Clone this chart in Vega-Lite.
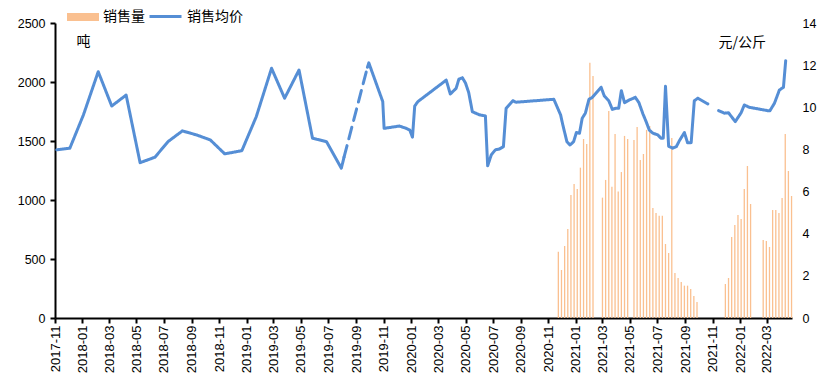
{
  "$schema": "https://vega.github.io/schema/vega-lite/v6.json",
  "autosize": {"type": "none"},
  "padding": {"left": 55, "top": 23, "right": 39, "bottom": 73},
  "width": 737,
  "height": 295,
  "background": "white",
  "config": {
    "view": {"stroke": null},
    "font": "Liberation Sans",
    "axis": {"labelColor": "black", "labelFontSize": 12.5, "labelFont": "Liberation Sans", "grid": false, "domainColor": "black", "tickColor": "black"},
    "legend": {"labelFont": "Noto Sans CJK SC", "labelFontSize": 14, "labelColor": "black", "padding": 0, "labelOffset": 4}
  },
  "layer": [
    {
      "data": {"values": [
        {"date": "2020-11-23", "sales": 562}, {"date": "2020-11-30", "sales": 407}, {"date": "2020-12-07", "sales": 610}, {"date": "2020-12-14", "sales": 754},
        {"date": "2020-12-21", "sales": 1042}, {"date": "2020-12-28", "sales": 1136}, {"date": "2021-01-04", "sales": 1093}, {"date": "2021-01-11", "sales": 1274},
        {"date": "2021-01-18", "sales": 1517}, {"date": "2021-01-25", "sales": 1475}, {"date": "2021-02-01", "sales": 2164}, {"date": "2021-02-08", "sales": 2051},
        {"date": "2021-03-01", "sales": 1020}, {"date": "2021-03-08", "sales": 1170}, {"date": "2021-03-15", "sales": 1754}, {"date": "2021-03-22", "sales": 1113},
        {"date": "2021-03-29", "sales": 1560}, {"date": "2021-04-05", "sales": 1071}, {"date": "2021-04-12", "sales": 1237}, {"date": "2021-04-19", "sales": 1543},
        {"date": "2021-04-26", "sales": 1517}, {"date": "2021-05-10", "sales": 1508}, {"date": "2021-05-17", "sales": 1619}, {"date": "2021-05-24", "sales": 1339},
        {"date": "2021-05-31", "sales": 1390}, {"date": "2021-06-07", "sales": 1594}, {"date": "2021-06-14", "sales": 1627}, {"date": "2021-06-21", "sales": 932},
        {"date": "2021-06-28", "sales": 890}, {"date": "2021-07-05", "sales": 867}, {"date": "2021-07-12", "sales": 867}, {"date": "2021-07-19", "sales": 627},
        {"date": "2021-07-26", "sales": 551}, {"date": "2021-08-02", "sales": 1525}, {"date": "2021-08-09", "sales": 381}, {"date": "2021-08-16", "sales": 339},
        {"date": "2021-08-23", "sales": 305}, {"date": "2021-08-30", "sales": 274}, {"date": "2021-09-06", "sales": 274}, {"date": "2021-09-13", "sales": 246},
        {"date": "2021-09-20", "sales": 186}, {"date": "2021-09-27", "sales": 136},
        {"date": "2021-11-29", "sales": 288}, {"date": "2021-12-06", "sales": 339}, {"date": "2021-12-13", "sales": 686}, {"date": "2021-12-20", "sales": 788},
        {"date": "2021-12-27", "sales": 873}, {"date": "2022-01-03", "sales": 839}, {"date": "2022-01-10", "sales": 1093}, {"date": "2022-01-17", "sales": 1288},
        {"date": "2022-01-24", "sales": 966},
        {"date": "2022-02-21", "sales": 661}, {"date": "2022-02-28", "sales": 653}, {"date": "2022-03-07", "sales": 602}, {"date": "2022-03-14", "sales": 915},
        {"date": "2022-03-21", "sales": 915}, {"date": "2022-03-28", "sales": 890}, {"date": "2022-04-04", "sales": 1017}, {"date": "2022-04-11", "sales": 1559},
        {"date": "2022-04-18", "sales": 1246}, {"date": "2022-04-25", "sales": 1034}
      ]},
      "mark": {"type": "bar", "size": 1.3},
      "encoding": {
        "x": {"field": "date", "type": "temporal",
          "scale": {"type": "utc", "nice": false, "padding": 0, "domain": [{"year": 2017, "month": 11, "date": 1, "utc": true}, {"year": 2022, "month": 4, "date": 26, "utc": true}]},
          "axis": {"title": null, "format": "%Y-%m", "tickCount": {"interval": "month", "step": 2}, "labelAngle": -90, "labelPadding": 2, "tickSize": 5, "tickWidth": 2, "domainWidth": 2, "labelFontSize": 13, "labelOverlap": false}},
        "y": {"field": "sales", "type": "quantitative",
          "scale": {"domain": [0, 2500], "nice": false},
          "axis": {"orient": "left", "values": [0, 500, 1000, 1500, 2000, 2500], "format": "d", "tickSize": 5, "tickWidth": 2, "domainWidth": 2, "labelPadding": 5,
            "title": "吨", "titleAngle": 0, "titleAlign": "left", "titleBaseline": "middle", "titleX": 21, "titleY": 18,
            "titleFont": "Noto Sans CJK SC", "titleFontSize": 14, "titleFontWeight": "normal", "titleColor": "black"}},
        "color": {"datum": "销售量", "type": "nominal",
          "scale": {"domain": ["销售量"], "range": ["#FAC090"]},
          "legend": {"orient": "none", "legendX": 12, "legendY": -22, "title": null,
            "symbolType": "M-1,-0.25H1V0.25H-1Z", "symbolSize": 1024, "symbolStrokeWidth": 0, "symbolOpacity": 1}}
      }
    },
    {
      "data": {"values": [
        {"date": "2017-11-05", "price": 7.98, "seg": "a"}, {"date": "2017-12-04", "price": 8.06, "seg": "a"}, {"date": "2018-01-03", "price": 9.63, "seg": "a"},
        {"date": "2018-02-05", "price": 11.69, "seg": "a"}, {"date": "2018-03-07", "price": 10.06, "seg": "a"}, {"date": "2018-04-08", "price": 10.58, "seg": "a"},
        {"date": "2018-05-09", "price": 7.37, "seg": "a"}, {"date": "2018-06-11", "price": 7.63, "seg": "a"}, {"date": "2018-07-10", "price": 8.37, "seg": "a"},
        {"date": "2018-08-11", "price": 8.88, "seg": "a"}, {"date": "2018-09-11", "price": 8.69, "seg": "a"}, {"date": "2018-10-12", "price": 8.45, "seg": "a"},
        {"date": "2018-11-13", "price": 7.79, "seg": "a"}, {"date": "2018-12-21", "price": 7.94, "seg": "a"}, {"date": "2019-01-22", "price": 9.55, "seg": "a"},
        {"date": "2019-02-25", "price": 11.85, "seg": "a"}, {"date": "2019-03-26", "price": 10.43, "seg": "a"}, {"date": "2019-04-27", "price": 11.77, "seg": "a"},
        {"date": "2019-05-27", "price": 8.53, "seg": "a"}, {"date": "2019-06-27", "price": 8.37, "seg": "a"}, {"date": "2019-07-30", "price": 7.11, "seg": "a"},
        {"date": "2019-08-05", "price": 7.63, "seg": "a"},
        {"date": "2019-08-05", "price": 7.63, "seg": "gap"}, {"date": "2019-09-26", "price": 11.9, "seg": "gap"},
        {"date": "2019-09-26", "price": 11.9, "seg": "b"}, {"date": "2019-09-29", "price": 12.11, "seg": "b"}, {"date": "2019-10-30", "price": 10.27, "seg": "b"},
        {"date": "2019-11-02", "price": 9.0, "seg": "b"}, {"date": "2019-12-06", "price": 9.11, "seg": "b"}, {"date": "2019-12-21", "price": 9.0, "seg": "b"},
        {"date": "2019-12-29", "price": 8.92, "seg": "b"}, {"date": "2020-01-04", "price": 8.58, "seg": "b"}, {"date": "2020-01-09", "price": 10.06, "seg": "b"},
        {"date": "2020-01-16", "price": 10.27, "seg": "b"}, {"date": "2020-03-19", "price": 11.29, "seg": "b"}, {"date": "2020-03-28", "price": 10.63, "seg": "b"},
        {"date": "2020-04-10", "price": 10.9, "seg": "b"}, {"date": "2020-04-16", "price": 11.33, "seg": "b"}, {"date": "2020-04-24", "price": 11.4, "seg": "b"},
        {"date": "2020-05-01", "price": 11.14, "seg": "b"}, {"date": "2020-05-08", "price": 10.69, "seg": "b"}, {"date": "2020-05-16", "price": 9.79, "seg": "b"},
        {"date": "2020-06-01", "price": 9.64, "seg": "b"}, {"date": "2020-06-14", "price": 9.59, "seg": "b"}, {"date": "2020-06-19", "price": 7.22, "seg": "b"},
        {"date": "2020-06-27", "price": 7.74, "seg": "b"}, {"date": "2020-07-06", "price": 7.98, "seg": "b"}, {"date": "2020-07-15", "price": 8.02, "seg": "b"},
        {"date": "2020-07-24", "price": 8.13, "seg": "b"}, {"date": "2020-07-30", "price": 9.95, "seg": "b"}, {"date": "2020-08-14", "price": 10.31, "seg": "b"},
        {"date": "2020-08-21", "price": 10.24, "seg": "b"}, {"date": "2020-11-13", "price": 10.38, "seg": "b"}, {"date": "2020-11-28", "price": 9.64, "seg": "b"},
        {"date": "2020-12-03", "price": 9.16, "seg": "b"}, {"date": "2020-12-12", "price": 8.37, "seg": "b"}, {"date": "2020-12-19", "price": 8.21, "seg": "b"},
        {"date": "2020-12-27", "price": 8.37, "seg": "b"}, {"date": "2021-01-02", "price": 8.8, "seg": "b"}, {"date": "2021-01-09", "price": 8.77, "seg": "b"},
        {"date": "2021-01-15", "price": 9.48, "seg": "b"}, {"date": "2021-01-22", "price": 9.72, "seg": "b"}, {"date": "2021-01-30", "price": 10.38, "seg": "b"},
        {"date": "2021-02-06", "price": 10.46, "seg": "b"}, {"date": "2021-02-26", "price": 10.95, "seg": "b"}, {"date": "2021-03-05", "price": 10.54, "seg": "b"},
        {"date": "2021-03-15", "price": 10.31, "seg": "b"}, {"date": "2021-03-23", "price": 9.9, "seg": "b"}, {"date": "2021-03-30", "price": 9.95, "seg": "b"},
        {"date": "2021-04-06", "price": 9.95, "seg": "b"}, {"date": "2021-04-12", "price": 10.79, "seg": "b"}, {"date": "2021-04-19", "price": 10.22, "seg": "b"},
        {"date": "2021-04-30", "price": 10.35, "seg": "b"}, {"date": "2021-05-13", "price": 10.47, "seg": "b"}, {"date": "2021-05-21", "price": 10.22, "seg": "b"},
        {"date": "2021-05-30", "price": 9.68, "seg": "b"}, {"date": "2021-06-06", "price": 9.32, "seg": "b"}, {"date": "2021-06-13", "price": 8.92, "seg": "b"},
        {"date": "2021-06-21", "price": 8.77, "seg": "b"}, {"date": "2021-07-02", "price": 8.69, "seg": "b"}, {"date": "2021-07-09", "price": 8.53, "seg": "b"},
        {"date": "2021-07-14", "price": 8.53, "seg": "b"}, {"date": "2021-07-19", "price": 11.0, "seg": "b"}, {"date": "2021-07-26", "price": 8.15, "seg": "b"},
        {"date": "2021-08-04", "price": 8.06, "seg": "b"}, {"date": "2021-08-12", "price": 8.13, "seg": "b"}, {"date": "2021-08-19", "price": 8.42, "seg": "b"},
        {"date": "2021-08-30", "price": 8.8, "seg": "b"}, {"date": "2021-09-06", "price": 8.32, "seg": "b"}, {"date": "2021-09-14", "price": 8.32, "seg": "b"},
        {"date": "2021-09-21", "price": 10.31, "seg": "b"}, {"date": "2021-09-29", "price": 10.43, "seg": "b"}, {"date": "2021-10-21", "price": 10.16, "seg": "b"},
        {"date": "2021-11-14", "price": 9.84, "seg": "c"}, {"date": "2021-11-27", "price": 9.72, "seg": "c"}, {"date": "2021-12-06", "price": 9.74, "seg": "c"},
        {"date": "2021-12-21", "price": 9.32, "seg": "c"}, {"date": "2022-01-03", "price": 9.74, "seg": "c"}, {"date": "2022-01-10", "price": 10.11, "seg": "c"},
        {"date": "2022-01-21", "price": 10.0, "seg": "c"}, {"date": "2022-03-03", "price": 9.84, "seg": "c"}, {"date": "2022-03-08", "price": 9.84, "seg": "c"},
        {"date": "2022-03-18", "price": 10.19, "seg": "c"}, {"date": "2022-03-29", "price": 10.82, "seg": "c"}, {"date": "2022-04-07", "price": 10.95, "seg": "c"},
        {"date": "2022-04-12", "price": 12.21, "seg": "c"}
      ]},
      "mark": {"type": "line", "strokeWidth": 3, "strokeJoin": "round", "strokeCap": "round"},
      "encoding": {
        "x": {"field": "date", "type": "temporal"},
        "y": {"field": "price", "type": "quantitative", "scale": {"domain": [0, 14], "nice": false},
          "axis": {"orient": "right", "values": [0, 2, 4, 6, 8, 10, 12, 14], "domain": false, "ticks": false, "labelPadding": 10,
            "title": "元/公斤", "titleAngle": 0, "titleAlign": "left", "titleBaseline": "middle", "titleX": -74, "titleY": 19,
            "titleFont": "Noto Sans CJK SC", "titleFontSize": 14, "titleFontWeight": "normal", "titleColor": "black"}},
        "detail": {"field": "seg"},
        "strokeDash": {"field": "seg", "type": "nominal",
          "scale": {"domain": ["a", "b", "c", "gap"], "range": [[1, 0], [1, 0], [1, 0], [12, 7]]}, "legend": null},
        "stroke": {"datum": "销售均价", "type": "nominal",
          "scale": {"domain": ["销售均价"], "range": ["#558ED5"]},
          "legend": {"orient": "none", "legendX": 93, "legendY": -24, "title": null,
            "symbolType": "stroke", "symbolSize": 1024, "symbolStrokeWidth": 3}}
      }
    }
  ],
  "resolve": {"scale": {"y": "independent"}}
}
